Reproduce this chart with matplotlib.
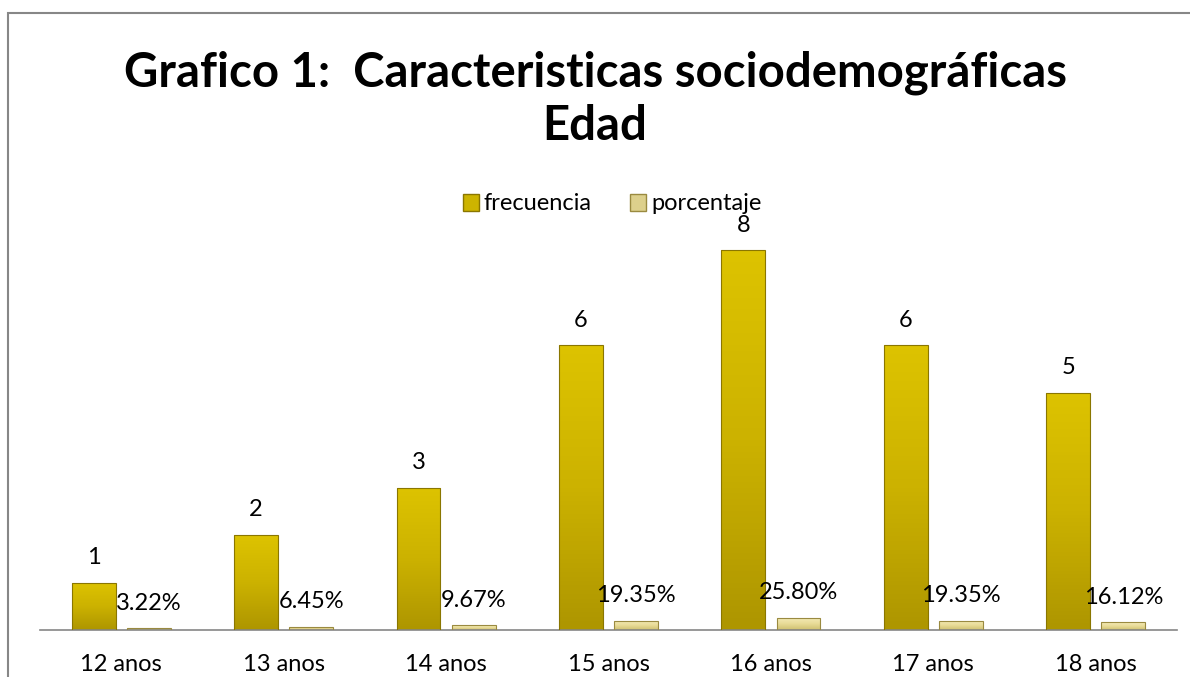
import numpy as np
import matplotlib.pyplot as plt
from matplotlib.patches import Rectangle
from matplotlib.colors import LinearSegmentedColormap

plt.rcParams['font.family'] = ['Lato', 'DejaVu Sans']

# Data
categorias = ['12 anos', '13 anos', '14 anos', '15 anos', '16 anos', '17 anos', '18 anos']
frecuencia = [1, 2, 3, 6, 8, 6, 5]
porcentaje = [0.0322, 0.0645, 0.0967, 0.1935, 0.2580, 0.1935, 0.1612]
porcentaje_txt = ['3.22%', '6.45%', '9.67%', '19.35%', '25.80%', '19.35%', '16.12%']

W, H = 1190, 677
fig = plt.figure(figsize=(W / 100, H / 100), dpi=100)

# outer chart border (only top and left visible in the reference)
fig.patches.append(Rectangle((8 / W, -0.2), 1.3, 1.2 - 13 / H, transform=fig.transFigure,
                             fill=False, edgecolor='#878787', linewidth=1.5, clip_on=False))

ax_top = 630 - 9 * 47.5
ax = fig.add_axes([40 / W, 47 / H, (1177 - 40) / W, (630 - ax_top) / H])

x = np.arange(len(categorias))
bw = 0.27
off = 0.17
fs = 17

gold = LinearSegmentedColormap.from_list('gold', ['#AE9600', '#CCB200', '#DDC300'])
pale = LinearSegmentedColormap.from_list('pale', ['#CFC070', '#E9DC98', '#F4EBB8'])

def bevel_bars(xs, vals, cmap, edge):
    bars = ax.bar(xs, vals, width=bw, color='none', edgecolor=edge, linewidth=0.8, zorder=3)
    grad = np.linspace(0, 1, 64).reshape(-1, 1)
    for b in bars:
        x0, y0 = b.get_x(), b.get_y()
        w, h = b.get_width(), b.get_height()
        im = ax.imshow(grad, cmap=cmap, origin='lower', aspect='auto',
                       extent=(x0, x0 + w, y0, y0 + h), zorder=2)
        im.set_clip_path(b)
    return bars

b1 = bevel_bars(x - off, frecuencia, gold, '#8A7600')
b2 = bevel_bars(x + off, porcentaje, pale, '#9A8A40')

for xi, v in zip(x - off, frecuencia):
    ax.annotate(str(v), (xi, v), xytext=(0, 18), textcoords='offset points',
                ha='center', va='center', fontsize=fs, color='black')
for xi, v, t in zip(x + off, porcentaje, porcentaje_txt):
    ax.annotate(t, (xi, v), xytext=(0, 18), textcoords='offset points',
                ha='center', va='center', fontsize=fs, color='black', zorder=5)

ax.set_xlim(-0.5, len(categorias) - 0.5)
ax.set_ylim(0, 9)
ax.set_xticks(x)
ax.set_xticklabels(categorias, fontsize=fs)
ax.tick_params(axis='x', length=0, pad=17)
ax.set_yticks([])
for s in ['top', 'right', 'left']:
    ax.spines[s].set_visible(False)
ax.spines['bottom'].set_color('#868686')
ax.spines['bottom'].set_linewidth(1.2)

# legend handles
h1 = Rectangle((0, 0), 1, 1, facecolor='#CDB400', edgecolor='#8A7600')
h2 = Rectangle((0, 0), 1, 1, facecolor='#DDD08C', edgecolor='#9A8A40')
fig.legend([h1, h2], ['frecuencia', 'porcentaje'], loc='center', ncol=2,
           bbox_to_anchor=(612 / W, 1 - 204 / H), frameon=False, fontsize=fs,
           handlelength=0.7, handleheight=0.7, handletextpad=0.2, columnspacing=1.6)

fig.text(595 / W, 1 - 73 / H, 'Grafico 1:  Caracteristicas sociodemográficas',
         ha='center', va='center', fontsize=34, fontweight='bold')
fig.text(595 / W, 1 - 126 / H, 'Edad', ha='center', va='center',
         fontsize=34, fontweight='bold')

fig.savefig('out.png', dpi=100)
